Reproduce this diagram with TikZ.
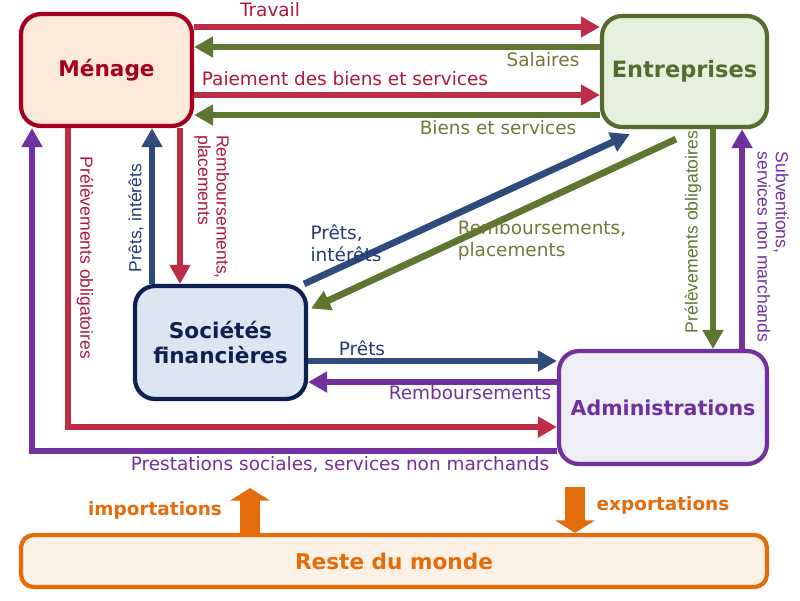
\documentclass[tikz,border=0pt]{standalone}
\usepackage{fontspec}
\setmainfont{DejaVu Sans}
\newfontfamily\slimfont{Liberation Sans}
\usetikzlibrary{arrows.meta,calc}

\definecolor{menageline}{HTML}{A50021}
\definecolor{menagefill}{HTML}{FDE9DB}
\definecolor{redflow}{HTML}{BE2D48}
\definecolor{redtext}{HTML}{B3163C}
\definecolor{entline}{HTML}{566B2E}
\definecolor{entfill}{HTML}{E6F0DC}
\definecolor{greenflow}{HTML}{5E7631}
\definecolor{greentext}{HTML}{75763C}
\definecolor{socline}{HTML}{0E2050}
\definecolor{socfill}{HTML}{DCE6F2}
\definecolor{blueflow}{HTML}{2F4B7C}
\definecolor{bluetext}{HTML}{24397A}
\definecolor{purpleflow}{HTML}{7030A0}
\definecolor{adminfill}{HTML}{EFEDF5}
\definecolor{orangeflow}{HTML}{E46C0A}
\definecolor{mondefill}{HTML}{FDF1E6}

\begin{document}
\begin{tikzpicture}[x=0.02cm, y=-0.02cm,
  box/.style={draw, line width=2.4pt, rounded corners=0.4cm, align=center,
    minimum width=3.42cm, minimum height=2.24cm,
    font=\bfseries\fontsize{12.3}{14}\selectfont},
  flow/.style={line width=0.135cm, -{Triangle[length=0.38cm,width=0.4cm]}},
  bigarrow/.style={orangeflow, line width=0.4cm, -{Triangle[length=0.25cm,width=0.78cm]}},
  lbl/.style={inner sep=0pt, align=left, font=\fontsize{10.5}{12.5}\selectfont},
  vlbl/.style={inner sep=0pt, align=left, font=\slimfont\fontsize{10}{10.5}\selectfont}]
\useasboundingbox (0,0) rectangle (800,600);

% agents
\node[box, draw=menageline, fill=menagefill, text=menageline] (menage) at (106.5,70) {Ménage};
\node[box, draw=entline, fill=entfill, text=entline, minimum width=3.3cm, minimum height=2.22cm,
  font=\bfseries\fontsize{12.8}{14}\selectfont] (entreprises) at (684.5,71.5) {Entreprises};
\node[box, draw=socline, fill=socfill, text=socline, minimum height=2.26cm] (societes) at (220.5,342.5) {Sociétés\\financières};
\node[box, draw=purpleflow, fill=adminfill, text=purpleflow, minimum width=4.16cm, minimum height=2.26cm,
  font=\bfseries\fontsize{11.7}{14}\selectfont] (admin) at (663,407.5) {Administrations};
\node[box, draw=orangeflow, fill=mondefill, text=orangeflow, rounded corners=0.25cm, minimum width=14.92cm, minimum height=1.04cm] (monde) at (394,561) {Reste du monde};

% menage <-> entreprises
\draw[flow, redflow] (menage.east |- 0,27) -- (entreprises.west |- 0,27);
\draw[flow, greenflow] (entreprises.west |- 0,47) -- (menage.east |- 0,47);
\draw[flow, redflow] (menage.east |- 0,95) -- (entreprises.west |- 0,95);
\draw[flow, greenflow] (entreprises.west |- 0,115) -- (menage.east |- 0,115);
\node[lbl, text=redtext] (travail) at (270,10) {Travail};
\node[lbl, text=greentext] (salaires) at (543,60) {Salaires};
\node[lbl, text=redtext] (paiement) at (345,79) {Paiement des biens et services};
\node[lbl, text=greentext] (biens) at (498,128) {Biens et services};

% menage <-> administrations, societes
\draw[flow, purpleflow] (admin.west |- 0,451) -| (menage.south -| 32,0);
\draw[flow, redflow] (menage.south -| 68,0) |- (admin.west |- 0,427);
\draw[flow, blueflow] (societes.north -| 152,0) -- (menage.south -| 152,0);
\draw[flow, redflow] (menage.south -| 180,0) -- (societes.north -| 180,0);
\node[vlbl, rotate=-90, text=redtext] (prelev1) at (85,258) {Prélèvements obligatoires};
\node[vlbl, rotate=90, text=bluetext] (prets1) at (136,218) {Prêts, intérêts};
\node[vlbl, rotate=-90, text=redtext] (rembours1) at (212,207) {Remboursements,\\placements};
\node[lbl, text=purpleflow] (prestations) at (340,465) {Prestations sociales, services non marchands};

% societes <-> entreprises
\draw[flow, blueflow] ($(societes.north east)+(-4,0)$) -- ($(entreprises.south west)+(30,5)$);
\draw[flow, greenflow] ($(entreprises.south west)+(76,10)$) -- ($(societes.east)+(3,-34)$);
\node[lbl, text=bluetext] (prets2) at (346,243) {Prêts,\\intérêts};
\node[lbl, text=greentext] (rembours2) at (542,240) {Remboursements,\\placements};

% societes <-> administrations
\draw[flow, blueflow] (societes.east |- 0,361) -- (admin.west |- 0,361);
\draw[flow, purpleflow] (admin.west |- 0,382) -- (societes.east |- 0,382);
\node[lbl, text=bluetext] (prets3) at (362,348) {Prêts};
\node[lbl, text=purpleflow] (rembours3) at (470,393) {Remboursements};

% entreprises <-> administrations
\draw[flow, greenflow] (entreprises.south -| 713,0) -- (admin.north -| 713,0);
\draw[flow, purpleflow] (admin.north -| 742,0) -- (entreprises.south -| 742,0);
\node[vlbl, rotate=90, text=greenflow] (prelev2) at (693,232) {Prélèvements obligatoires};
\node[vlbl, rotate=-90, text=purpleflow] (subventions) at (773,247) {Subventions,\\services non marchands};

% reste du monde
\coordinate (imptop) at (250,488);
\coordinate (exptop) at (575,487);
\draw[bigarrow] (monde.north -| imptop) -- (imptop);
\draw[bigarrow] (exptop) -- (monde.north -| exptop);
\node[lbl, text=orangeflow, font=\bfseries\fontsize{10.5}{12.5}\selectfont] (importations) at (155,510) {importations};
\node[lbl, text=orangeflow, font=\bfseries\fontsize{10.5}{12.5}\selectfont] (exportations) at (663,505) {exportations};
\end{tikzpicture}
\end{document}
